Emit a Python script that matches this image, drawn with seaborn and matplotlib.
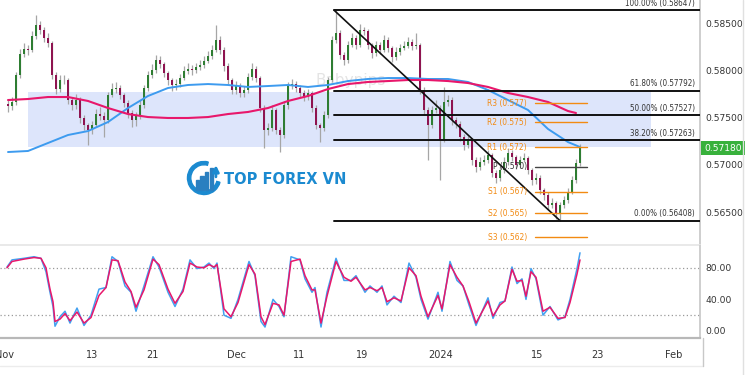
import numpy as np
import pandas as pd
import matplotlib
matplotlib.use("Agg")
import matplotlib.pyplot as plt
import matplotlib.transforms as mtrans
from matplotlib.patches import Rectangle, Wedge
from matplotlib.lines import Line2D
import seaborn as sns

sns.set_theme(style="white")
plt.rcParams['font.family'] = ['DejaVu Sans']

# velas (aprox. 2 por dia de trading), precio NZD/USD
closes = [0.57627, 0.57670, 0.57957, 0.58181, 0.58234, 0.58223, 0.58372, 0.58489, 0.58436, 0.58351,
          0.58298, 0.57957, 0.57808, 0.57904, 0.57904, 0.57691, 0.57638, 0.57691, 0.57500, 0.57425,
          0.57372, 0.57425, 0.57542, 0.57521, 0.57478, 0.57744, 0.57808, 0.57815, 0.57744, 0.57659,
          0.57553, 0.57478, 0.57521, 0.57638, 0.57819, 0.57957, 0.58010, 0.58117, 0.58074, 0.57978,
          0.57904, 0.57851, 0.57861, 0.57925, 0.58000, 0.58021, 0.58010, 0.58042, 0.58064, 0.58106,
          0.58159, 0.58223, 0.58330, 0.58223, 0.58053, 0.57904, 0.57798, 0.57840, 0.57766, 0.57798,
          0.57936, 0.58021, 0.57925, 0.57606, 0.57372, 0.57393, 0.57585, 0.57372, 0.57319, 0.57638,
          0.57851, 0.57861, 0.57819, 0.57766, 0.57723, 0.57766, 0.57606, 0.57425, 0.57393, 0.57532,
          0.57904, 0.58330, 0.58404, 0.58170, 0.58117, 0.58276, 0.58351, 0.58276, 0.58436, 0.58420,
          0.58276, 0.58191, 0.58276, 0.58223, 0.58330, 0.58244, 0.58149, 0.58202, 0.58244, 0.58266,
          0.58308, 0.58266, 0.58276, 0.57798, 0.57585, 0.57425, 0.57585, 0.57606, 0.57266, 0.57670,
          0.57691, 0.57478, 0.57436, 0.57298, 0.57212, 0.57266, 0.57053, 0.56979, 0.57032, 0.57053,
          0.57106, 0.56915, 0.56862, 0.56946, 0.57032, 0.57127, 0.57085, 0.57000, 0.57053, 0.57074,
          0.56946, 0.56840, 0.56862, 0.56734, 0.56681, 0.56574, 0.56596, 0.56489, 0.56574, 0.56628,
          0.56713, 0.56840, 0.57021, 0.57180]
highs = [0.57700, 0.57720, 0.57990, 0.58230, 0.58300, 0.58280, 0.58420, 0.58595, 0.58530, 0.58470,
         0.58400, 0.58320, 0.57990, 0.57960, 0.57960, 0.57930, 0.57720, 0.57760, 0.57720, 0.57530,
         0.57450, 0.57470, 0.57600, 0.57620, 0.57560, 0.57780, 0.57870, 0.57883, 0.57850, 0.57770,
         0.57690, 0.57580, 0.57560, 0.57690, 0.57850, 0.58000, 0.58070, 0.58170, 0.58160, 0.58100,
         0.58000, 0.57930, 0.57920, 0.57970, 0.58050, 0.58080, 0.58060, 0.58090, 0.58120, 0.58160,
         0.58210, 0.58280, 0.58489, 0.58370, 0.58250, 0.58080, 0.57930, 0.57890, 0.57870, 0.57840,
         0.57980, 0.58080, 0.58050, 0.57950, 0.57640, 0.57450, 0.57640, 0.57610, 0.57400, 0.57680,
         0.57880, 0.57910, 0.57890, 0.57850, 0.57800, 0.57810, 0.57790, 0.57640, 0.57450, 0.57570,
         0.57940, 0.58370, 0.58647, 0.58440, 0.58200, 0.58320, 0.58400, 0.58380, 0.58500, 0.58470,
         0.58450, 0.58300, 0.58320, 0.58310, 0.58380, 0.58360, 0.58270, 0.58250, 0.58290, 0.58320,
         0.58360, 0.58340, 0.58404, 0.58300, 0.57830, 0.57620, 0.57630, 0.57690, 0.57640, 0.57830,
         0.57740, 0.57720, 0.57510, 0.57470, 0.57330, 0.57310, 0.57290, 0.57090, 0.57080, 0.57110,
         0.57160, 0.57130, 0.56950, 0.56990, 0.57080, 0.57180, 0.57160, 0.57110, 0.57100, 0.57130,
         0.57100, 0.56970, 0.56910, 0.56890, 0.56760, 0.56710, 0.56650, 0.56620, 0.56610, 0.56670,
         0.56760, 0.56880, 0.57060, 0.57220]
lows = [0.57560, 0.57590, 0.57640, 0.57930, 0.58150, 0.58170, 0.58200, 0.58340, 0.58390, 0.58310,
        0.58260, 0.57920, 0.57760, 0.57780, 0.57860, 0.57650, 0.57580, 0.57600, 0.57450, 0.57370,
        0.57212, 0.57330, 0.57400, 0.57480, 0.57300, 0.57450, 0.57720, 0.57770, 0.57700, 0.57620,
        0.57500, 0.57400, 0.57420, 0.57490, 0.57610, 0.57790, 0.57930, 0.57980, 0.58030, 0.57940,
        0.57850, 0.57790, 0.57800, 0.57830, 0.57900, 0.57970, 0.57960, 0.57980, 0.58010, 0.58030,
        0.58080, 0.58130, 0.58200, 0.58180, 0.58000, 0.57860, 0.57750, 0.57760, 0.57720, 0.57720,
        0.57770, 0.57900, 0.57880, 0.57560, 0.57180, 0.57320, 0.57360, 0.57330, 0.57138, 0.57290,
        0.57600, 0.57810, 0.57780, 0.57720, 0.57680, 0.57690, 0.57560, 0.57380, 0.57244, 0.57360,
        0.57500, 0.57880, 0.58300, 0.58130, 0.58060, 0.58090, 0.58250, 0.58230, 0.58250, 0.58380,
        0.58230, 0.58140, 0.58160, 0.58180, 0.58200, 0.58200, 0.58100, 0.58120, 0.58170, 0.58220,
        0.58240, 0.58220, 0.58230, 0.57760, 0.57540, 0.57053, 0.57390, 0.57550, 0.56840, 0.57240,
        0.57630, 0.57430, 0.57390, 0.57250, 0.57160, 0.57180, 0.57000, 0.56930, 0.56950, 0.57000,
        0.57020, 0.56870, 0.56810, 0.56830, 0.56910, 0.57000, 0.57040, 0.56960, 0.56970, 0.57030,
        0.56900, 0.56790, 0.56800, 0.56690, 0.56630, 0.56520, 0.56540, 0.56430, 0.56408, 0.56540,
        0.56600, 0.56690, 0.56810, 0.56990]
first_open = 0.57650

# medias moviles (azul y rosa)
ma_idx = [0, 5, 10, 15, 20, 25, 30, 35, 40, 45, 50, 55, 60, 65, 70, 75, 80, 85, 90, 95,
          100, 105, 110, 115, 120, 125, 130, 135, 140, 143]
ma_blue = [0.57138, 0.57149, 0.57234, 0.57319, 0.57361, 0.57457, 0.57606, 0.57734, 0.57819, 0.57851,
           0.57861, 0.57851, 0.57830, 0.57840, 0.57851, 0.57830, 0.57851, 0.57893, 0.57915, 0.57925,
           0.57925, 0.57915, 0.57915, 0.57883, 0.57798, 0.57691, 0.57585, 0.57383, 0.57244, 0.57191]
ma_pink_idx = [0, 5, 10, 15, 20, 25, 30, 35, 40, 45, 50, 55, 60, 65, 70, 75, 80, 85, 90, 95,
               100, 105, 110, 115, 120, 125, 130, 135, 140, 142]
ma_pink = [0.57691, 0.57702, 0.57723, 0.57723, 0.57681, 0.57606, 0.57542, 0.57510, 0.57500, 0.57500,
           0.57510, 0.57542, 0.57564, 0.57606, 0.57681, 0.57734, 0.57808, 0.57861, 0.57883, 0.57893,
           0.57904, 0.57904, 0.57893, 0.57872, 0.57830, 0.57766, 0.57723, 0.57670, 0.57574, 0.57553]

# estocastico
stoch_idx = [-0.25, 1, 4, 6.5, 8.25, 9.5, 10, 10.5, 11.25, 11.75, 13, 14.25, 15.5, 17.25, 19, 20.75,
             22.75, 24.5, 26, 27.5, 29.25, 30.75, 32, 34, 36.25, 37.75, 40, 41.75, 43.75, 45.5, 47.25,
             49, 50.25, 51.5, 52.25, 54, 55.75, 57.5, 60.25, 61.75, 63.25, 64.25, 66.25, 67.75, 69,
             70.75, 73, 74.25, 76, 76.75, 78.25, 79.75, 82, 84, 85.75, 87, 89.25, 90.5, 92.25, 93.5,
             94.75, 96.5, 98.25, 100.25, 102, 103.25, 105, 107.5, 108.5, 110.5, 112.25, 113.75, 115.25,
             117, 120, 121.25, 123, 124.25, 126, 127.25, 128.5, 129.5, 130.75, 132, 133.75, 135.5,
             137.5, 139.25, 140.5, 142.25, 143]
stoch_k = [81, 90, 92, 94, 92, 75, 62, 49, 31, 6, 18, 25, 10, 29, 7, 20, 53, 55, 94, 88, 57, 49, 25,
           57, 94, 81, 49, 31, 53, 90, 79, 81, 86, 79, 86, 20, 16, 40, 88, 70, 12, 5, 40, 31, 18, 94,
           90, 66, 49, 55, 5, 49, 92, 64, 64, 70, 49, 57, 49, 57, 33, 44, 36, 86, 68, 40, 15, 49, 25,
           88, 64, 57, 33, 7, 42, 16, 36, 38, 81, 60, 66, 40, 79, 66, 20, 31, 14, 18, 40, 79, 99]
stoch_d = [80, 88, 91, 93, 92, 80, 66, 53, 37, 12, 15, 22, 13, 24, 10, 17, 45, 55, 90, 89, 62, 50, 30,
           52, 91, 84, 53, 35, 50, 86, 81, 80, 84, 81, 84, 28, 18, 36, 84, 72, 18, 8, 35, 33, 20, 88,
           91, 70, 52, 52, 10, 44, 88, 68, 63, 68, 52, 55, 51, 55, 37, 42, 38, 80, 70, 44, 18, 45, 28,
           84, 68, 57, 37, 10, 38, 19, 33, 38, 78, 63, 64, 44, 75, 68, 25, 30, 16, 17, 36, 72, 90]

# fibonacci
fib_pct = ["100.00%", "61.80%", "50.00%", "38.20%", "0.00%"]
fib_levels = [0.58647, 0.57792, 0.57527, 0.57263, 0.56408]
fib_start = 81.5
# pivotes
pivot_names = ["R3", "R2", "R1", "P", "S1", "S2", "S3"]
pivot_levels = [0.57659, 0.57457, 0.57191, 0.56979, 0.56713, 0.56489, 0.56234]
pivot_text = ["0.577", "0.575", "0.572", "0.570", "0.567", "0.565", "0.562"]
# zona azul
zone_lo, zone_hi = 0.57191, 0.57776
zone_x0, zone_x1 = 5, 160.75
# linea de tendencia
trend_x = [81.5, 138]
trend_y = [0.58647, 0.56408]

tick_pos = [-1, 21, 36, 57, 72.75, 88.5, 108.25, 132.25, 147.25, 166.5]
tick_labels = ["Nov", "13", "21", "Dec", "11", "19", "2024", "15", "23", "Feb"]
price_ticks = [0.565, 0.570, 0.575, 0.580, 0.585]
last_price = 0.57180

df = pd.DataFrame({'close': closes, 'high': highs, 'low': lows})
df['open'] = [first_open] + closes[:-1]
df['idx'] = np.arange(len(df))
up = df['close'] >= df['open']

W, H = 750, 375
fig = plt.figure(figsize=(7.5, 3.75), dpi=100)
fig.patch.set_facecolor('white')
ax = fig.add_axes([0, 1 - 245 / H, 700 / W, 245 / H])
ax2 = fig.add_axes([0, 1 - 338 / H, 700 / W, 92 / H], sharex=ax)

# zona
ax.add_patch(Rectangle((zone_x0, zone_lo), zone_x1 - zone_x0, zone_hi - zone_lo,
                       facecolor='#dde5fb', edgecolor='none', zorder=0))
ax.text(85.75, 0.57904, "Babypips", fontsize=11, color='#e4e4e4', ha='center', va='center', zorder=0.5)

# velas
ax.vlines(df['idx'], df['low'], df['high'], color='#a6a6a6', lw=0.9, zorder=2)
body_lo = np.minimum(df['open'], df['close'])
body_h = np.maximum(np.abs(df['close'] - df['open']), 0.00003)
ax.bar(df['idx'], body_h, bottom=body_lo, width=0.5,
       color=np.where(up, '#2e7d32', '#8e1450'), zorder=3, linewidth=0)

# medias
sns.lineplot(x=ma_idx, y=ma_blue, ax=ax, color='#3d9bef', lw=1.4, zorder=4)
sns.lineplot(x=ma_pink_idx, y=ma_pink, ax=ax, color='#e8176b', lw=1.5, zorder=4)

# fibonacci
for pct, lvl in zip(fib_pct, fib_levels):
    ax.plot([fib_start, 175], [lvl, lvl], color='#111111', lw=1.4, zorder=5)
    ax.text(171.75, lvl + 0.00025, f"{pct} ({lvl:.5f})", fontsize=5.8, color='#333333',
            ha='right', va='bottom', fontstretch='condensed', zorder=6)
ax.plot(trend_x, trend_y, color='#111111', lw=1.2, zorder=5)

# pivotes
for name, lvl, txt in zip(pivot_names, pivot_levels, pivot_text):
    col = '#444444' if name == 'P' else '#f28a12'
    ax.plot([131.75, 144.75], [lvl, lvl], color=col, lw=1.0, zorder=5)
    ax.text(129.75, lvl, f"{name} ({txt})", fontsize=6, color=col if name != 'P' else '#333333',
            ha='right', va='center', fontstretch='condensed', zorder=6)

ax.set_xlim(-2, 173)
ax.set_ylim(0.56149, 0.58755)
ax.yaxis.tick_right()
ax.set_yticks(price_ticks)
ax.set_yticklabels([f"{p:.5f}" for p in price_ticks])
ax.tick_params(axis='y', length=0, pad=4, labelsize=6.6, labelcolor='#333333')
ax.tick_params(axis='x', length=0, labelbottom=False)
for s in ['top', 'left']:
    ax.spines[s].set_visible(False)
ax.spines['right'].set_color('#c8c8c8')
ax.spines['bottom'].set_color('#e6e6e6')
ax.set_ylabel('')

trans = mtrans.blended_transform_factory(ax.transAxes, ax.transData)
ax.text(1.006, last_price, f"{last_price:.5f}", transform=trans, fontsize=6.6, color='white',
        ha='left', va='center',
        bbox=dict(facecolor='#38b13c', edgecolor='none', boxstyle='square,pad=0.3'), zorder=10)

# estocastico
ax2.axhline(80, color='#9a9a9a', lw=0.9, ls=(0, (1, 2)))
ax2.axhline(20, color='#9a9a9a', lw=0.9, ls=(0, (1, 2)))
sns.lineplot(x=stoch_idx, y=stoch_k, ax=ax2, color='#42a0f0', lw=1.1)
sns.lineplot(x=stoch_idx, y=stoch_d, ax=ax2, color='#e8176b', lw=1.1)
ax2.set_ylim(-8.9, 107.6)
ax2.yaxis.tick_right()
ax2.set_yticks([0, 40, 80])
ax2.set_yticklabels(["0.00", "40.00", "80.00"])
ax2.tick_params(axis='y', length=0, pad=4, labelsize=6.6, labelcolor='#333333')
ax2.set_xticks(tick_pos)
ax2.set_xticklabels(tick_labels)
ax2.tick_params(axis='x', length=0, pad=9, labelsize=7, labelcolor='#333333')
for s in ['top', 'left']:
    ax2.spines[s].set_visible(False)
ax2.spines['right'].set_color('#c8c8c8')
ax2.spines['bottom'].set_color('#b8b8b8')
ax2.spines['bottom'].set_linewidth(1.6)
ax2.set_xlim(-2, 173)

# borde eje de tiempo
fig.add_artist(Line2D([0, 703 / W], [1 - 366 / H, 1 - 366 / H], color='#ececec', lw=1))
fig.add_artist(Line2D([703 / W, 703 / W], [1 - 366 / H, 1 - 338 / H], color='#c8c8c8', lw=1))
fig.add_artist(Line2D([743 / W, 743 / W], [0, 1], color='#e0e0e0', lw=1))

# logo
logo_blue = '#1b8ad0'
lax = fig.add_axes([185 / W, 1 - 199 / H, 38 / W, 42 / H])
lax.set_xlim(-1.15, 1.15)
lax.set_ylim(-1.15, 1.15)
lax.set_aspect('equal')
lax.axis('off')
lax.add_patch(Wedge((0, 0), 1.0, 75, 345, width=0.2, color=logo_blue))
for bx, bh in zip([-0.5, -0.22, 0.06, 0.34], [0.55, 0.8, 1.05, 1.3]):
    lax.add_patch(Rectangle((bx, -0.7), 0.2, bh, color='#2a7fc0'))
lax.annotate('', xy=(0.72, 0.95), xytext=(0.72, -0.1),
             arrowprops=dict(arrowstyle='-|>', color=logo_blue, lw=2, mutation_scale=9))
fig.text(224 / W, 1 - 180 / H, "TOP FOREX VN", fontsize=10.5, fontweight='bold',
         color=logo_blue, ha='left', va='center')

fig.savefig('out.png', dpi=100, facecolor='white')
plt.close(fig)
